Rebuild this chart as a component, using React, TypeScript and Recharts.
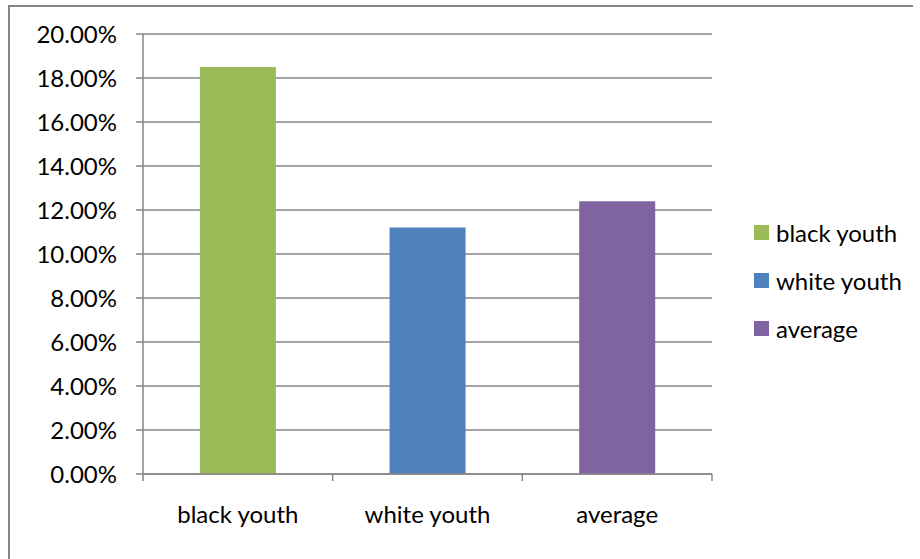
import { BarChart, Bar, Cell, XAxis, YAxis, CartesianGrid, Legend } from 'recharts';

const categories = ['black youth', 'white youth', 'average'];
const rates = [0.185, 0.112, 0.124];
const barColors = ['#9BBB59', '#4F81BD', '#8064A2'];
const yTicks = [0, 0.02, 0.04, 0.06, 0.08, 0.1, 0.12, 0.14, 0.16, 0.18, 0.2];

const data = categories.map((name, i) => ({ name, rate: rates[i] }));

const font = 'Lato, "Open Sans", sans-serif';
const gray = '#868686';

// category ticks sit on the band edges, like the spreadsheet chart
function CategoryTick(props: any) {
  const { x, y, payload, index, visibleTicksCount } = props;
  const half = payload.offset || 0;
  const isLast = index === visibleTicksCount - 1;
  return (
    <g>
      <line x1={x - half} x2={x - half} y1={y} y2={y + 7} stroke={gray} strokeWidth={1.5} />
      {isLast && <line x1={x + half} x2={x + half} y1={y} y2={y + 7} stroke={gray} strokeWidth={1.5} />}
      <text x={x} y={y + 32} dy="0.71em" textAnchor="middle" fill="#000" fontSize={24} fontFamily={font}>
        {payload.value}
      </text>
    </g>
  );
}

function CategoryLegend() {
  return (
    <div style={{ fontFamily: font, fontSize: 24, color: '#000' }}>
      {categories.map((name, i) => (
        <div key={name} style={{ display: 'flex', alignItems: 'center', height: 48 }}>
          <span style={{ width: 15, height: 15, background: barColors[i], marginRight: 7, display: 'inline-block' }} />
          <span>{name}</span>
        </div>
      ))}
    </div>
  );
}

export default function App() {
  return (
    <div style={{ position: 'absolute', left: 0, top: 0, width: 920, height: 559, background: '#fff', overflow: 'hidden' }}>
      <div
        style={{
          position: 'absolute',
          left: 8,
          top: 5,
          width: 903,
          height: 600,
          borderTop: `2px solid ${gray}`,
          borderLeft: `2px solid ${gray}`,
        }}
      />
      <BarChart
        width={920}
        height={559}
        data={data}
        margin={{ top: 34, right: 48, left: 0, bottom: 25 }}
        barCategoryGap="30%"
        style={{ position: 'absolute', left: 0, top: 0 }}
      >
        <CartesianGrid vertical={false} stroke={gray} strokeWidth={1.5} />
        <XAxis
          dataKey="name"
          height={60}
          stroke={gray}
          strokeWidth={1.5}
          tickLine={false}
          tickSize={0}
          tickMargin={0}
          interval={0}
          tick={<CategoryTick />}
        />
        <YAxis
          domain={[0, 0.2]}
          ticks={yTicks}
          width={143}
          tickSize={7}
          tickMargin={19}
          stroke={gray}
          strokeWidth={1.5}
          tickFormatter={(v: number) => `${(v * 100).toFixed(2)}%`}
          tick={{ fill: '#000', fontSize: 24, fontFamily: font }}
        />
        <Legend
          layout="horizontal"
          verticalAlign="middle"
          align="right"
          content={() => <CategoryLegend />}
          wrapperStyle={{ left: 754, top: 208, width: 160 }}
        />
        <Bar dataKey="rate" isAnimationActive={false}>
          {data.map((d, i) => (
            <Cell key={d.name} fill={barColors[i]} />
          ))}
        </Bar>
      </BarChart>
    </div>
  );
}
